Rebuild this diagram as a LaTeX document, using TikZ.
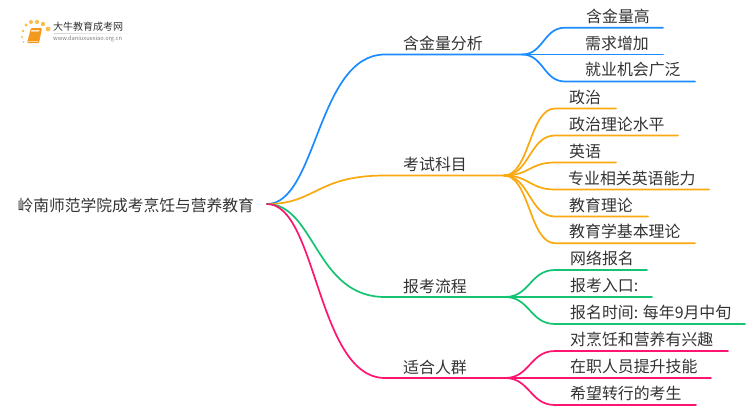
\documentclass[tikz,border=0pt]{standalone}
\usepackage{fontspec}
\setmainfont{Noto Sans CJK SC}
\definecolor{cblue}{HTML}{1A8CFF}
\definecolor{corange}{HTML}{FAA90F}
\definecolor{cgreen}{HTML}{14C472}
\definecolor{cpink}{HTML}{FF1470}
\definecolor{ctext}{HTML}{333333}
\definecolor{cbook}{HTML}{F39A1C}
\tikzset{
  lbl/.style={anchor=west,inner sep=0pt,text=ctext,font=\fontsize{15.9}{16}\selectfont},
  wire/.style={line width=1.7pt,line cap=round},
}
% \myleaf{name}{colour}{label x}{line start x}{line y}{line end x}{branch coordinate}{text}
\newcommand{\myleaf}[8]{%
  \coordinate (#1a) at (#4,#5);
  \coordinate (#1b) at (#6,#5);
  \node[lbl] (#1) at (#3,#5-11.5) {#8};
  \draw[wire,#2] (#7) .. controls ({(#4+\csname myx#7\endcsname)/2},{\csname myy#7\endcsname}) and ({(#4+\csname myx#7\endcsname)/2},#5) .. (#1a) -- (#1b);
}
\begin{document}
\begin{tikzpicture}[x=1pt,y=-1pt]
\useasboundingbox (0,0) rectangle (750,410);
\fill[white] (0,0) rectangle (750,410);

% logo
\foreach \px/\py/\r in {23/31/1.3,26/25/1.6,31/22/2,37/22/2.1,43/24/2.2,48/29/2.4,22/37/1.1,23.5/42/0.9}
  \fill[corange!75!white] (\px,\py) circle (\r);
\fill[cbook,rounded corners=1pt] (31,28) -- (42,28) -- (39,43) -- (27,43) -- cycle;
\fill[white!75!cbook] (31.5,30) -- (39.5,30) -- (39,31.5) -- (31,31.5) -- cycle;
\draw[white!60!cbook,line width=.5pt] (28,41) -- (38,41);
\shade[left color=gray!35,right color=white] (54,33) rectangle (132,33.5);
\node[inner sep=0pt,anchor=west,text=ctext,font=\fontsize{10}{10}\selectfont] (logot) at (53,26.5) {大牛教育成考网};
\node[inner sep=0pt,anchor=west,text=gray,font=\fontsize{5.7}{6}\selectfont] (logou) at (53,38.5) {www.daniuxuexiao.org.cn};

% root
\node[lbl,font=\fontsize{15.75}{16}\selectfont] (root) at (17.5,205.5) {岭南师范学院成考烹饪与营养教育};
\coordinate (r) at (267,204);

% branches
\coordinate (b1s) at (385,54.5);  \coordinate (b1) at (522,54.5);
\coordinate (b2s) at (385,175.5); \coordinate (b2) at (504,175.5);
\coordinate (b3s) at (385,297);   \coordinate (b3) at (505,297);
\coordinate (b4s) at (385,378);   \coordinate (b4) at (505,378);
\draw[wire,cblue]   (r) .. controls (317,204) and (317,54.5) .. (b1s) -- (b1);
\draw[wire,corange] (r) .. controls (316,204) and (316,175.5) .. (b2s) -- (b2);
\draw[wire,cgreen]  (r) .. controls (315,204) and (315,297) .. (b3s) -- (b3);
\draw[wire,cpink]   (r) .. controls (317,204) and (317,378) .. (b4s) -- (b4);
\node[lbl] (n1) at (403,43) {含金量分析};
\node[lbl] (n2) at (403,164.5) {考试科目};
\node[lbl] (n3) at (403,286) {报考流程};
\node[lbl] (n4) at (403,367) {适合人群};

\def\myxbone{522}\def\myybone{54.5}
\def\myxbtwo{504}\def\myybtwo{175.5}
\def\myxbthree{505}\def\myybthree{297}
\def\myxbfour{505}\def\myybfour{378}
\coordinate (bone) at (b1);
\coordinate (btwo) at (b2);
\coordinate (bthree) at (b3);
\coordinate (bfour) at (b4);

\myleaf{la}{cblue}{586}{565}{27.7}{663}{bone}{含金量高}
\myleaf{lb}{cblue}{585}{565}{54.5}{663}{bone}{需求增加}
\myleaf{lc}{cblue}{585}{565}{81.5}{695}{bone}{就业机会广泛}

\myleaf{ld}{corange}{569}{555}{108.5}{616}{btwo}{政治}
\myleaf{le}{corange}{569}{555}{135.5}{678}{btwo}{政治理论水平}
\myleaf{lf}{corange}{569}{555}{162.5}{616}{btwo}{英语}
\myleaf{lg}{corange}{568}{555}{189.5}{709}{btwo}{专业相关英语能力}
\myleaf{lh}{corange}{569}{555}{216.5}{648}{btwo}{教育理论}
\myleaf{li}{corange}{569}{555}{243.2}{695}{btwo}{教育学基本理论}

\myleaf{lj}{cgreen}{570}{555}{270}{647}{bthree}{网络报名}
\myleaf{lk}{cgreen}{570}{555}{297}{652}{bthree}{报考入口:}
\myleaf{ll}{cgreen}{570}{555}{324}{745}{bthree}{报名时间: 每年9月中旬}

\myleaf{lm}{cpink}{570}{555}{351}{728}{bfour}{对烹饪和营养有兴趣}
\myleaf{ln}{cpink}{570}{555}{378}{711}{bfour}{在职人员提升技能}
\myleaf{lo}{cpink}{570}{555}{405}{696}{bfour}{希望转行的考生}
\end{tikzpicture}
\end{document}
